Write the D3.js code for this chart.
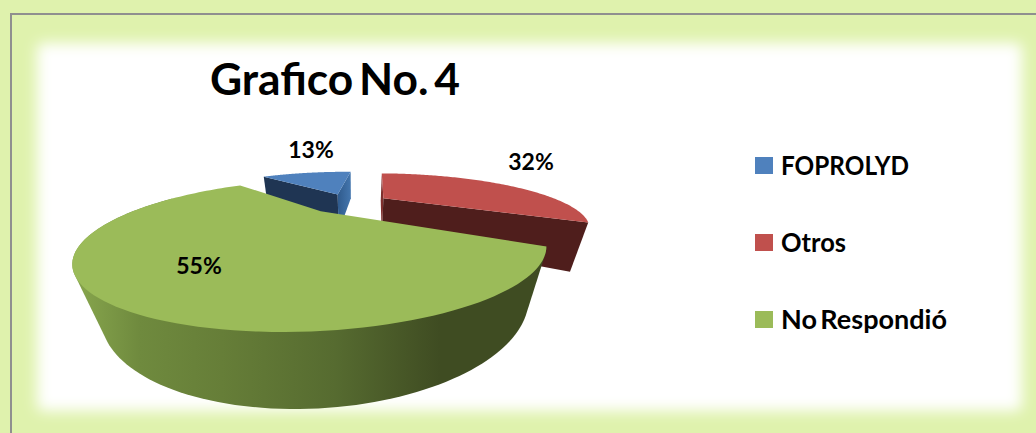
<!DOCTYPE html>
<html lang="es">
<head>
<meta charset="utf-8">
<title>Grafico No. 4</title>
<style>
  html, body { margin: 0; padding: 0; background: #dff2ad; }
  svg { display: block; }
  text { font-family: Lato, "Open Sans", sans-serif; font-weight: 700; fill: #000; }
</style>
<script src="https://cdn.jsdelivr.net/npm/d3@7"></script>
</head>
<body>
<svg id="chart" width="1036" height="433"></svg>
<script>
// Chart data
const title = "Grafico No. 4";
const categories = ["FOPROLYD", "Otros", "No Respondió"];
const shares = [13, 32, 55];
const faceColours = ["#4f81bd", "#c0504d", "#9bbb59"];

// Camera for the tilted, exploded pie: the plane of the top face is mapped to
// the screen by a homography, and walls run towards the nadir point.
const camera = {
  cx: 349.14, cy: 202.78,
  ux: 174.07, uy: 2.56,
  vx: 15.30, vy: -41.64,
  g: -0.0548, h: 0.5216,
  explode: 0.2329,
  depth: 0.0667,
  nadirX: 355.82, nadirY: 850.62
};

const svg = d3.select("#chart");
const defs = svg.append("defs");

// Soft white panel on the pale green ground
defs.append("filter").attr("id", "soft")
  .attr("x", "-5%").attr("y", "-10%").attr("width", "110%").attr("height", "120%")
  .append("feGaussianBlur").attr("stdDeviation", 7);

const greenWall = defs.append("linearGradient").attr("id", "greenWall")
  .attr("gradientUnits", "userSpaceOnUse")
  .attr("x1", 85).attr("x2", 540).attr("y1", 0).attr("y2", 0);
[[0, "#84a24b"], [0.12, "#6f8a3e"], [0.3, "#667e38"], [0.55, "#566b30"], [0.78, "#3f4c22"], [1, "#3f4c22"]]
  .forEach(([o, c]) => greenWall.append("stop").attr("offset", o).attr("stop-color", c));

const blueEdge = defs.append("linearGradient").attr("id", "blueEdge")
  .attr("x1", 0).attr("x2", 1).attr("y1", 0).attr("y2", 0);
[[0, "#2f5a8c"], [1, "#4476ae"]]
  .forEach(([o, c]) => blueEdge.append("stop").attr("offset", o).attr("stop-color", c));

svg.append("rect").attr("width", 1036).attr("height", 433).attr("fill", "#dff2ad");
svg.append("rect")
  .attr("x", 37).attr("y", 43).attr("width", 985).attr("height", 368)
  .attr("rx", 6)
  .attr("fill", "#fff").attr("filter", "url(#soft)");
svg.append("path")
  .attr("d", "M11,433V14H1036")
  .attr("fill", "none").attr("stroke", "#8f8f8f").attr("stroke-width", 2);

// Angles from the data: the first slice ends at twelve o'clock
const total = d3.sum(shares);
const firstSweep = shares[0] / total * 2 * Math.PI;
const slices = d3.pie().sort(null)
  .startAngle(-firstSweep)
  .endAngle(2 * Math.PI - firstSweep)(shares);

function planeToScreen(X, Y) {
  const w = 1 + camera.g * X + camera.h * Y;
  return {
    x: camera.cx + (X * camera.ux + Y * camera.vx) / w,
    y: camera.cy + (X * camera.uy + Y * camera.vy) / w,
    w
  };
}
function drop(p) {
  const t = camera.depth;
  return {
    x: (p.x * p.w + t * camera.nadirX) / (p.w + t),
    y: (p.y * p.w + t * camera.nadirY) / (p.w + t)
  };
}
function geometry(slice) {
  const mid = (slice.startAngle + slice.endAngle) / 2;
  const ox = camera.explode * Math.sin(mid);
  const oy = camera.explode * Math.cos(mid);
  const at = a => planeToScreen(Math.sin(a) + ox, Math.cos(a) + oy);
  const arc = (a0, a1) => d3.range(0, 121).map(i => at(a0 + (a1 - a0) * i / 120));
  return { apex: planeToScreen(ox, oy), at, arc };
}
const outline = d3.line().x(d => d.x).y(d => d.y);
const poly = pts => outline(pts) + "Z";
function cutFace(g, angle) {
  const rim = g.at(angle);
  return poly([g.apex, rim, drop(rim), drop(g.apex)]);
}
const layer = svg.append("g");
const [blue, red, green] = slices.map(geometry);

// Blue slice: two cut faces, then the top
layer.append("path").attr("d", cutFace(blue, slices[0].startAngle)).attr("fill", "#1f3553");
layer.append("path").attr("d", cutFace(blue, slices[0].endAngle)).attr("fill", "url(#blueEdge)");
layer.append("path")
  .attr("d", poly([blue.apex, ...blue.arc(slices[0].startAngle, slices[0].endAngle)]))
  .attr("fill", faceColours[0]);

// Red slice
layer.append("path").attr("d", cutFace(red, slices[1].startAngle)).attr("fill", "#7e2f2d");
layer.append("path").attr("d", cutFace(red, slices[1].endAngle)).attr("fill", "#4f1e1c");
layer.append("path")
  .attr("d", poly([red.apex, ...red.arc(slices[1].startAngle, slices[1].endAngle)]))
  .attr("fill", faceColours[1]);

// Green slice: curved front wall from its visible part of the rim, then the top
const frontRim = green.arc(slices[2].startAngle, slices[2].startAngle + 168 * Math.PI / 180);
const wallHull = d3.polygonHull(
  frontRim.concat(frontRim.map(drop)).map(p => [p.x, p.y])
);
layer.append("path")
  .attr("d", "M" + wallHull.join("L") + "Z")
  .attr("fill", "url(#greenWall)");
layer.append("path")
  .attr("d", poly([green.apex, ...green.arc(slices[2].startAngle, slices[2].endAngle)]))
  .attr("fill", faceColours[2]);

// Title
svg.append("text")
  .attr("x", 210).attr("y", 95)
  .attr("font-size", 44).attr("word-spacing", -5)
  .attr("textLength", 250).attr("lengthAdjust", "spacingAndGlyphs")
  .text(title);

// Percentage labels, centred on their anchor points
const labelAnchors = [[311, 158], [531, 170], [199, 274]];
svg.append("g").selectAll("text").data(shares).join("text")
  .attr("x", (d, i) => labelAnchors[i][0])
  .attr("y", (d, i) => labelAnchors[i][1])
  .attr("text-anchor", "middle")
  .attr("font-size", 23)
  .text(d => d + "%");

// Legend
const legendRow = d3.scalePoint().domain(categories).range([157, 311]);
const legendWidths = [128, 65, 166];
const legend = svg.append("g").selectAll("g").data(categories).join("g")
  .attr("transform", d => `translate(755,${legendRow(d)})`);
legend.append("rect")
  .attr("width", 18).attr("height", 17)
  .attr("fill", (d, i) => faceColours[i]);
legend.append("text")
  .attr("x", 26).attr("y", 18)
  .attr("font-size", 26).attr("word-spacing", -3)
  .attr("textLength", (d, i) => legendWidths[i]).attr("lengthAdjust", "spacingAndGlyphs")
  .text(d => d);
</script>
</body>
</html>
